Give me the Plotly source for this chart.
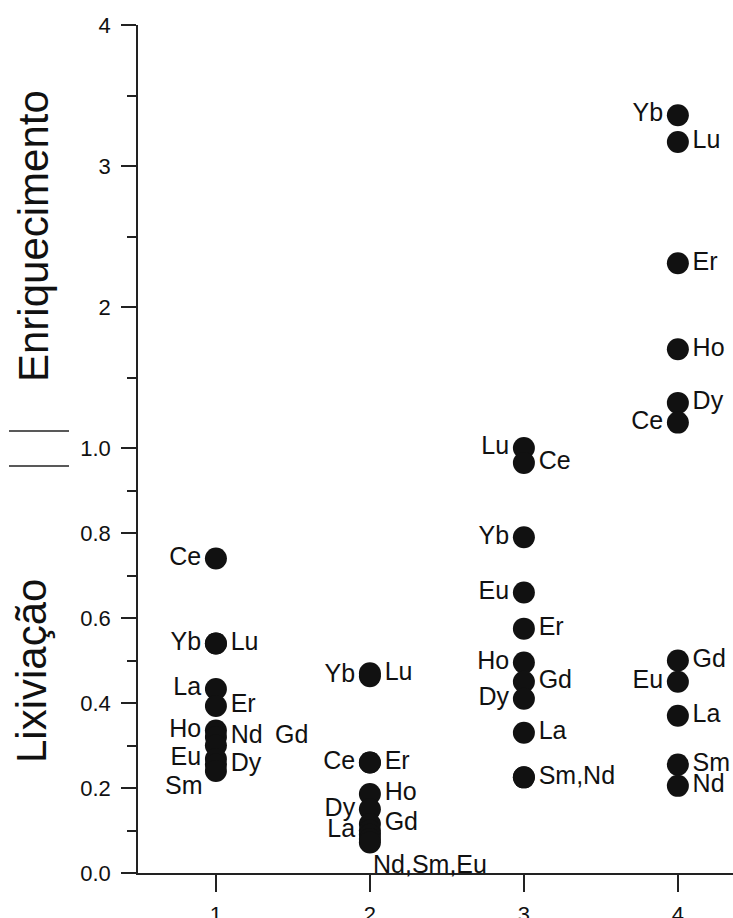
import plotly.graph_objects as go

# ---------------- data ----------------
samples = [1, 2, 3, 4]
x_tick_labels = ["1", "2", "3", "4"]

elements_1 = ["Ce", "Yb", "Lu", "La", "Er", "Ho", "Nd", "Gd", "Eu", "Dy", "Sm"]
values_1 = [0.74, 0.54, 0.54, 0.433, 0.393, 0.335, 0.32, 0.30, 0.268, 0.255, 0.24]

elements_2 = ["Yb", "Lu", "Ce", "Er", "Ho", "Dy", "Gd", "La", "Nd", "Sm", "Eu"]
values_2 = [0.463, 0.47, 0.26, 0.26, 0.186, 0.15, 0.115, 0.10, 0.09, 0.08, 0.072]

elements_3 = ["Lu", "Ce", "Yb", "Eu", "Er", "Ho", "Gd", "Dy", "La", "Sm", "Nd"]
values_3 = [1.0, 0.965, 0.79, 0.66, 0.575, 0.495, 0.45, 0.41, 0.33, 0.225, 0.225]

elements_4 = ["Yb", "Lu", "Er", "Ho", "Dy", "Ce", "Gd", "Eu", "La", "Sm", "Nd"]
values_4 = [3.36, 3.17, 2.31, 1.70, 1.32, 1.18, 0.50, 0.45, 0.37, 0.255, 0.205]

lower_ticks = [0.0, 0.2, 0.4, 0.6, 0.8, 1.0]
lower_tick_labels = ["0.0", "0.2", "0.4", "0.6", "0.8", "1.0"]
lower_minor = [0.1, 0.3, 0.5, 0.7, 0.9]
upper_ticks = [2, 3, 4]
upper_tick_labels = ["2", "3", "4"]
upper_minor = [1.5, 2.5, 3.5]

title_upper = "Enriquecimento"
title_lower = "Lixiviação"

# ---------------- label styling (placement only) ----------------
label_style = {
    1: {"Ce": "middle left", "Yb": "middle left", "Lu": "middle right", "La": "middle left",
        "Er": "middle right", "Ho": "middle left", "Nd": "middle right", "Gd": None,
        "Eu": "middle left", "Dy": "middle right", "Sm": "annot"},
    2: {"Yb": "middle left", "Lu": "middle right", "Ce": "middle left", "Er": "middle right",
        "Ho": "middle right", "Dy": "middle left", "Gd": "middle right", "La": "middle left",
        "Nd": None, "Sm": None, "Eu": "annot"},
    3: {"Lu": "middle left", "Ce": "middle right", "Yb": "middle left", "Eu": "middle left",
        "Er": "middle right", "Ho": "middle left", "Gd": "middle right", "Dy": "middle left",
        "La": "middle right", "Sm": "middle right", "Nd": None},
    4: {"Yb": "middle left", "Lu": "middle right", "Er": "middle right", "Ho": "middle right",
        "Dy": "middle right", "Ce": "middle left", "Gd": "middle right", "Eu": "middle left",
        "La": "middle right", "Sm": "middle right", "Nd": "middle right"},
}
label_text = {
    (1, "Nd"): "Nd\u2002Gd",
    (2, "Eu"): "Nd,Sm,Eu",
    (3, "Sm"): "Sm,Nd",
}
# offset labels: (xanchor, yanchor, xshift, yshift)
annot_style = {
    (1, "Sm"): ("right", "middle", -11, -14),
    (2, "Eu"): ("left", "top", 1, -6),
}

# ---------------- geometry ----------------
W, H = 733, 918
ML, MR, MT, MB = 138, 0, 25, 45
plot_h = H - MT - MB
plot_w = W - ML - MR
split = 425 / plot_h  # fraction of height for the 0-1 segment

FONT = "Liberation Sans, Arial, sans-serif"
INK = "#111111"
LABEL_SIZE = 25

fig = go.Figure()

all_data = [(1, elements_1, values_1), (2, elements_2, values_2),
            (3, elements_3, values_3), (4, elements_4, values_4)]

for s, els, vals in all_data:
    for el, v in zip(els, vals):
        pos = label_style[s][el]
        txt = label_text.get((s, el), el)
        yax = "y" if v <= 1.0 else "y2"
        show_txt = pos not in (None, "annot")
        fig.add_trace(go.Scatter(
            x=[s], y=[v],
            xaxis="x", yaxis=yax,
            mode="markers+text" if show_txt else "markers",
            text=[txt] if show_txt else None,
            textposition=pos if show_txt else None,
            textfont=dict(family=FONT, size=LABEL_SIZE, color=INK),
            marker=dict(size=22, color=INK, line=dict(width=0)),
            cliponaxis=False,
            showlegend=False,
            hoverinfo="skip",
        ))
        if pos == "annot":
            xa, ya, xs, ys = annot_style[(s, el)]
            fig.add_annotation(x=s, y=v, xref="x", yref=yax, text=txt,
                               showarrow=False, xanchor=xa, yanchor=ya,
                               xshift=xs, yshift=ys,
                               font=dict(family=FONT, size=LABEL_SIZE, color=INK))

axis_common = dict(
    showgrid=False, zeroline=False, showline=True, linecolor="#222", linewidth=1.5,
    ticks="outside", tickcolor="#222", tickwidth=1.5,
    tickfont=dict(family=FONT, size=22, color=INK),
)

fig.update_layout(
    width=W, height=H,
    margin=dict(l=ML, r=MR, t=MT, b=MB, autoexpand=False),
    paper_bgcolor="white", plot_bgcolor="white",
    xaxis=dict(range=[0.494, 4.358], tickvals=samples, ticktext=x_tick_labels,
               ticklen=17, anchor="y", ticklabelstandoff=4, **axis_common),
    yaxis=dict(domain=[0, split], range=[0, 1.0], tickvals=lower_ticks,
               ticktext=lower_tick_labels, ticklen=15, anchor="x",
               ticklabelstandoff=6,
               minor=dict(tickvals=lower_minor, ticklen=9, ticks="outside",
                          tickcolor="#222", tickwidth=1.5),
               **axis_common),
    yaxis2=dict(domain=[split, 1], range=[1.0, 4.0], tickvals=upper_ticks,
                ticktext=upper_tick_labels, ticklen=15, anchor="x",
                ticklabelstandoff=6,
                minor=dict(tickvals=upper_minor, ticklen=9, ticks="outside",
                           tickcolor="#222", tickwidth=1.5),
                **axis_common),
)


def px_x(px):
    return (px - ML) / plot_w


def px_y(py):
    return (H - MB - py) / plot_h


fig.add_annotation(text=title_upper, xref="paper", yref="paper",
                   x=px_x(33), y=px_y(236), textangle=-90, showarrow=False,
                   xanchor="center", yanchor="middle",
                   font=dict(family=FONT, size=42, color=INK))
fig.add_annotation(text=title_lower, xref="paper", yref="paper",
                   x=px_x(31), y=px_y(671), textangle=-90, showarrow=False,
                   xanchor="center", yanchor="middle",
                   font=dict(family=FONT, size=42, color=INK))

# axis-break marks
for py in (431, 466):
    fig.add_shape(type="line", xref="paper", yref="paper",
                  x0=px_x(9), x1=px_x(69), y0=px_y(py), y1=px_y(py),
                  line=dict(color="#222", width=1.5))

fig.write_html(
    "out.html",
    config={"displayModeBar": False},
    post_script="document.body.style.margin='0';document.body.style.overflow='hidden';",
)
